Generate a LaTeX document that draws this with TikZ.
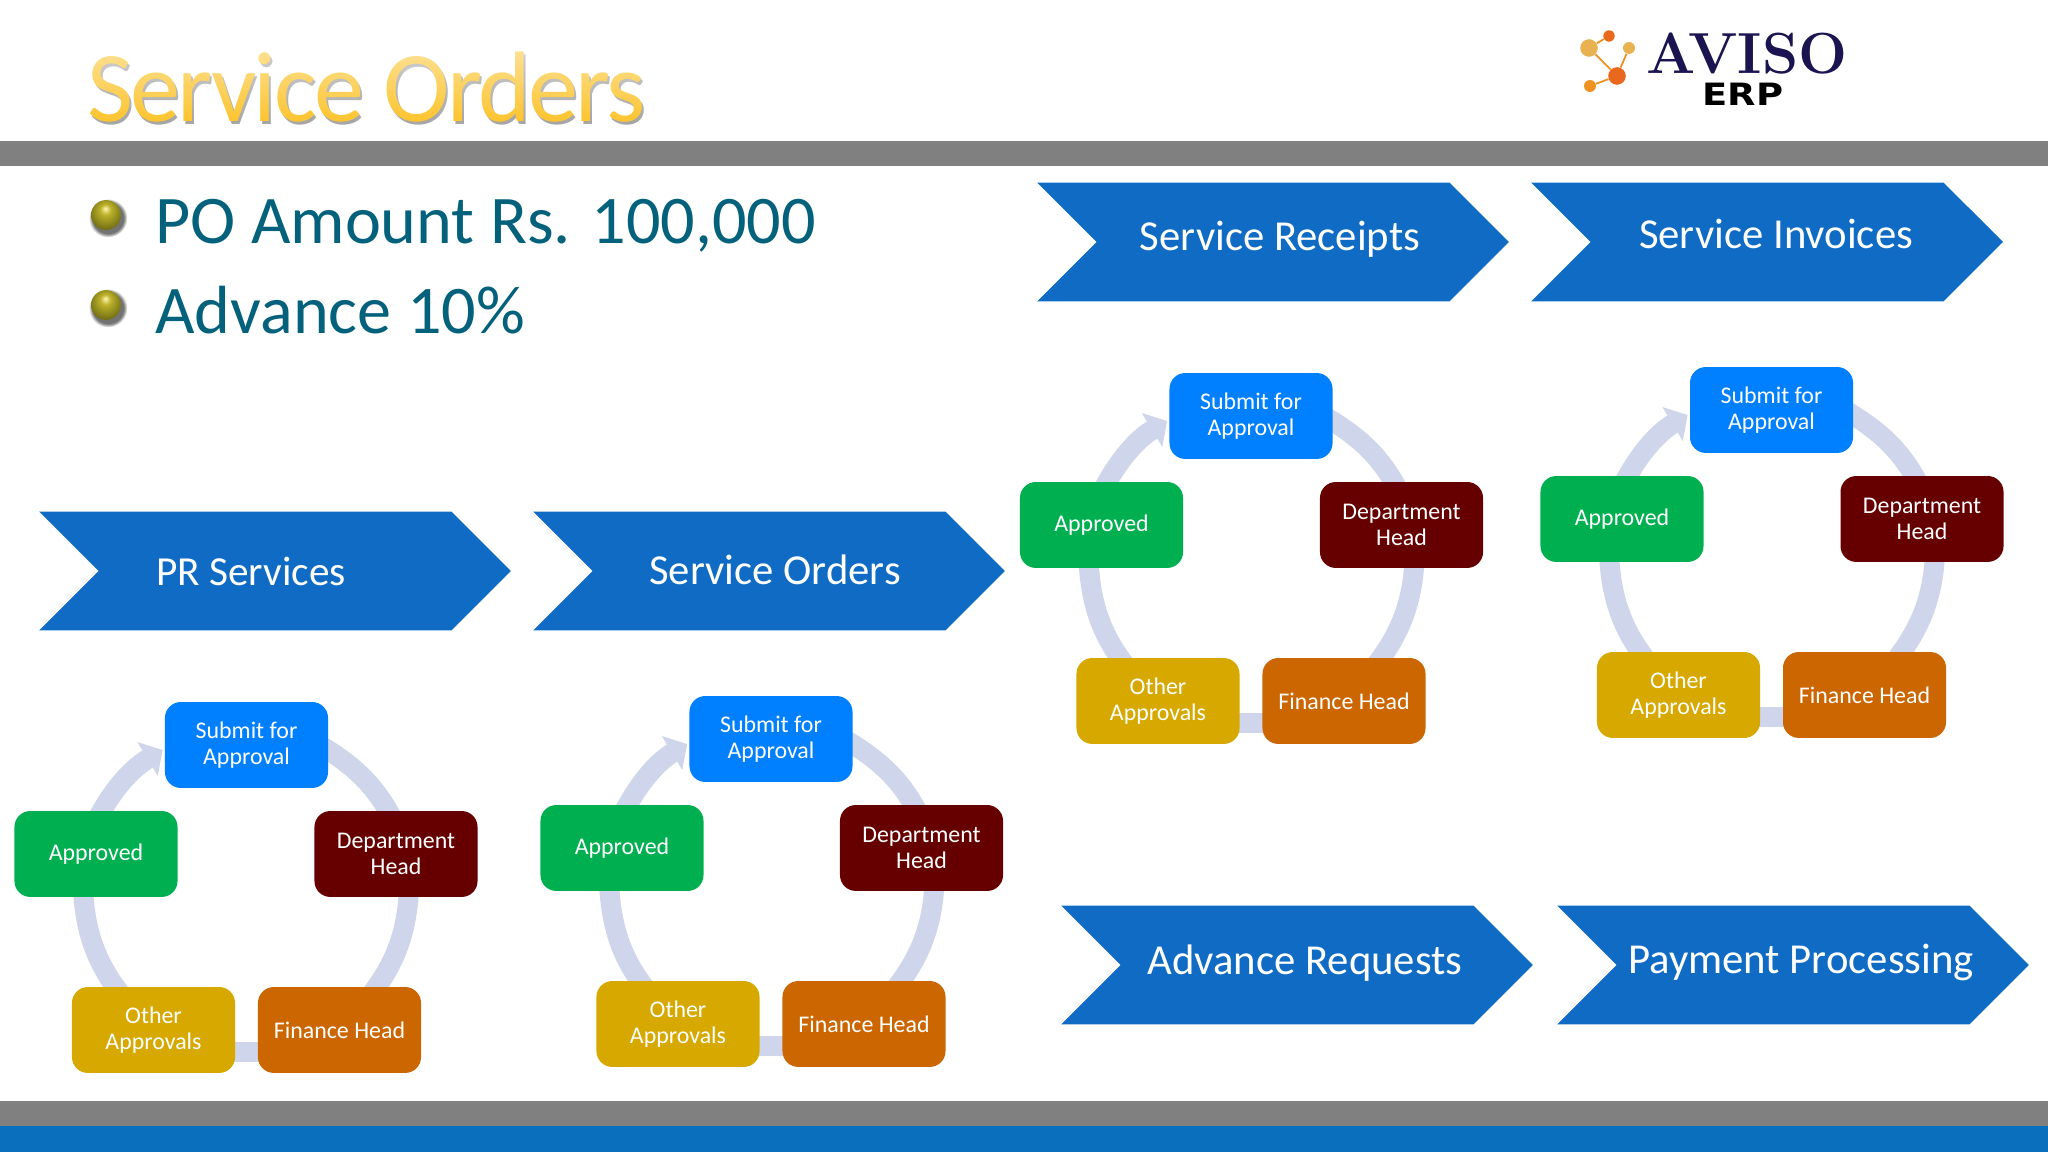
\documentclass[tikz,border=0pt]{standalone}
\usepackage{fontspec}
\setmainfont{Carlito}
\newfontfamily\erpfont[FakeStretch=1.2]{DejaVu Sans}
\newfontfamily\avisofont{Latin Modern Roman}
\usetikzlibrary{positioning}
\usetikzlibrary{calc}
\usetikzlibrary{arrows.meta}
\usetikzlibrary{backgrounds}
\usetikzlibrary{fadings}
\usetikzlibrary{shapes.symbols}
\definecolor{bandgrey}{HTML}{808080}
\definecolor{bandblue}{HTML}{0A6FBD}
\definecolor{chevblue}{HTML}{0F6BC4}
\definecolor{ringblue}{HTML}{CFD5EA}
\definecolor{tealtext}{HTML}{04617B}
\definecolor{titlegold}{HTML}{FCC42E}
\definecolor{logonavy}{HTML}{1A1450}
\definecolor{subfill}{HTML}{0080FF}
\definecolor{appfill}{HTML}{00B050}
\definecolor{depfill}{HTML}{660000}
\definecolor{finfill}{HTML}{CC6600}
\definecolor{othfill}{HTML}{D6A800}
\definecolor{logored}{HTML}{E8681E}
\definecolor{logosand}{HTML}{E8B250}
\definecolor{logoamber}{HTML}{EE9120}
\definecolor{ballhi}{HTML}{FFF6B0}
\definecolor{ballmid}{HTML}{BDB02A}
\definecolor{balllow}{HTML}{9A9420}
\definecolor{balledge}{HTML}{6E6A14}
\pgfdeclareradialshading{goldball}{\pgfpoint{-1bp}{11bp}}{color(0bp)=(ballhi); color(9bp)=(ballmid); color(18bp)=(balllow); color(30bp)=(balledge); color(50bp)=(balledge)}
\tikzset{box/.style={rounded corners=9pt, minimum width=92.8pt, minimum height=48.9pt, inner sep=0pt, align=center, text=white, font=\fontsize{13.6}{14.6}\selectfont}}
\tikzset{subbox/.style={box, fill=subfill}}
\tikzset{appbox/.style={box, fill=appfill}}
\tikzset{depbox/.style={box, fill=depfill}}
\tikzset{finbox/.style={box, fill=finfill}}
\tikzset{othbox/.style={box, fill=othfill}}
\tikzset{ring/.style={line width=11.4pt, draw=ringblue, looseness=0.95}}
\tikzset{ringtip/.style={ring, -{Triangle[width=22pt,length=10pt]}}}
\tikzset{chev/.style={signal, signal from=west, signal to=east, signal pointer angle=90, minimum width=268.6pt, minimum height=67.7pt, inner sep=0pt, fill=chevblue}}
\tikzset{chevtext/.style={text=white, inner sep=0pt, font=\fontsize{24.3}{28}\selectfont}}
\tikzset{bullet/.style={circle, minimum size=17pt, inner sep=0pt, shading=goldball}}
\tikzset{ballshade/.style={circle, minimum size=22pt, inner sep=0pt, fill=black!55, path fading=circle with fuzzy edge 20 percent}}
\tikzset{point/.style={anchor=base west, inner sep=0pt, text=tealtext, font=\fontsize{38.8}{46}\selectfont}}
\tikzset{titletext/.style={anchor=base west, inner sep=0pt, font=\fontsize{57}{68}\selectfont\addfontfeatures{LetterSpace=-2.6}}}
\tikzset{dot/.style={circle, inner sep=0pt}}
\tikzset{link/.style={logoamber, line width=1pt}}

\begin{document}
\begin{tikzpicture}[x=0.02cm, y=0.02cm, on grid]
\useasboundingbox (0,0) rectangle (2048,1152);

% bands
\fill[bandgrey] (0,986) rectangle (2048,1011);
\fill[bandgrey] (0,26) rectangle (2048,51);
\fill[bandblue] (0,0) rectangle (2048,26);

% heading
\node[titletext, text=black!35] (titleshadow) at (89,1027) {Service Orders};
\node[titletext, text=titlegold] (title) at (87,1030) {Service Orders};
\fill[white, path fading=south, fill opacity=.5] (80,1030) rectangle (660,1105);

% logo
\node[dot, fill=logored, minimum size=6.5pt] (d1) at (1609,1116) {};
\node[dot, fill=logosand, minimum size=10pt] (d2) at (1589,1104) {};
\node[dot, fill=logosand, minimum size=6.8pt] (d3) at (1629,1104) {};
\node[dot, fill=logored, minimum size=10pt] (d4) at (1617,1076) {};
\node[dot, fill=logoamber, minimum size=6.8pt] (d5) at (1590,1066) {};
\begin{pgfonlayer}{background}
\draw[link] (d1) -- (d2);
\draw[link] (d2) -- (d4);
\draw[link] (d3) -- (d4);
\draw[link] (d5) -- (d4);
\end{pgfonlayer}
\node[anchor=base west, inner sep=0pt, text=logonavy, font=\fontsize{33}{36}\avisofont\bfseries\selectfont] (aviso) at (1646,1078) {AVISO};
\node[anchor=base, inner sep=0pt, font=\fontsize{17.5}{20}\erpfont\bfseries\selectfont] (erp) at (1743,1046) {ERP};

% points
\node[ballshade] (s1) at (108,934) {};
\node[ballshade] (s2) at (108,844) {};
\node[bullet] (b1) at (106,937) {};
\node[bullet] (b2) at (106,847) {};
\node[point] (po) at (155,908) {PO Amount Rs. 100,000};
\node[point] (adv) at (155,818) {Advance 10\%};

% chevrons
\node[chev] (prc) at (275,581) {};
\node[chev] (ord) at (769,581) {};
\node[chev] (rcp) at (1273,910) {};
\node[chev] (inv) at (1767,910) {};
\node[chev] (req) at (1297,187) {};
\node[chev] (pay) at (1793,187) {};

\node[chevtext, font=\fontsize{23.5}{28}\selectfont] (prct) at (251,581) {PR Services};
\node[chevtext] (ordt) at (775,582) {Service Orders};
\node[chevtext] (rcpt) at (1280,913) {Service Receipts};
\node[chevtext] (invt) at (1776,918) {Service Invoices};
\node[chevtext] (reqt) at (1305,189) {Advance Requests};
\node[chevtext] (payt) at (1801,190) {Payment Processing};

% first cycle
\node[subbox] (subA) at (246.5,407) {Submit for\\Approval};
\node[appbox] (appA) [below left = 109 and 150.5 of subA] {Approved};
\node[depbox] (depA) [below right = 109 and 149.5 of subA] {Department\\Head};
\node[othbox] (othA) [below left = 285 and 93 of subA] {Other\\Approvals};
\node[finbox] (finA) [below right = 285 and 93 of subA] {Finance Head};
\begin{pgfonlayer}{background}
\draw[ring] ($(subA.east) + (-7, -1)$) to[out=-31, in=118] ($(depA.north) + (-4, -7)$);
\draw[ring] ($(depA.south) + (13, 8)$) to[out=-93, in=53] ($(finA.north) + (33, -6)$);
\draw[ring] ($(finA.west) + (8, -22)$) -- ($(othA.east) + (-8, -22)$);
\draw[ring] ($(othA.north) + (-34, -6)$) to[out=127, in=273] ($(appA.south) + (-13, 8)$);
\draw[ringtip] ($(appA.north) + (2, -7)$) to[out=62, in=211] ($(subA.west) + (-2, -5)$);
\end{pgfonlayer}

% second cycle
\node[subbox] (subB) at (771,413) {Submit for\\Approval};
\node[appbox] (appB) [below left = 109 and 149 of subB] {Approved};
\node[depbox] (depB) [below right = 109 and 150.5 of subB] {Department\\Head};
\node[othbox] (othB) [below left = 285 and 93 of subB] {Other\\Approvals};
\node[finbox] (finB) [below right = 285 and 93 of subB] {Finance Head};
\begin{pgfonlayer}{background}
\draw[ring] ($(subB.east) + (-7, -1)$) to[out=-31, in=118] ($(depB.north) + (-4, -7)$);
\draw[ring] ($(depB.south) + (13, 8)$) to[out=-93, in=53] ($(finB.north) + (33, -6)$);
\draw[ring] ($(finB.west) + (8, -22)$) -- ($(othB.east) + (-8, -22)$);
\draw[ring] ($(othB.north) + (-34, -6)$) to[out=127, in=273] ($(appB.south) + (-13, 8)$);
\draw[ringtip] ($(appB.north) + (2, -7)$) to[out=62, in=211] ($(subB.west) + (-2, -5)$);
\end{pgfonlayer}

% third cycle
\node[subbox] (subC) at (1251,736) {Submit for\\Approval};
\node[appbox] (appC) [below left = 109 and 149.5 of subC] {Approved};
\node[depbox] (depC) [below right = 109 and 150.5 of subC] {Department\\Head};
\node[othbox] (othC) [below left = 285 and 93 of subC] {Other\\Approvals};
\node[finbox] (finC) [below right = 285 and 93 of subC] {Finance Head};
\begin{pgfonlayer}{background}
\draw[ring] ($(subC.east) + (-7, -1)$) to[out=-31, in=118] ($(depC.north) + (-4, -7)$);
\draw[ring] ($(depC.south) + (13, 8)$) to[out=-93, in=53] ($(finC.north) + (33, -6)$);
\draw[ring] ($(finC.west) + (8, -22)$) -- ($(othC.east) + (-8, -22)$);
\draw[ring] ($(othC.north) + (-34, -6)$) to[out=127, in=273] ($(appC.south) + (-13, 8)$);
\draw[ringtip] ($(appC.north) + (2, -7)$) to[out=62, in=211] ($(subC.west) + (-2, -5)$);
\end{pgfonlayer}

% fourth cycle
\node[subbox] (subD) at (1771.5,742) {Submit for\\Approval};
\node[appbox] (appD) [below left = 109 and 149.5 of subD] {Approved};
\node[depbox] (depD) [below right = 109 and 150.5 of subD] {Department\\Head};
\node[othbox] (othD) [below left = 285 and 93 of subD] {Other\\Approvals};
\node[finbox] (finD) [below right = 285 and 93 of subD] {Finance Head};
\begin{pgfonlayer}{background}
\draw[ring] ($(subD.east) + (-7, -1)$) to[out=-31, in=118] ($(depD.north) + (-4, -7)$);
\draw[ring] ($(depD.south) + (13, 8)$) to[out=-93, in=53] ($(finD.north) + (33, -6)$);
\draw[ring] ($(finD.west) + (8, -22)$) -- ($(othD.east) + (-8, -22)$);
\draw[ring] ($(othD.north) + (-34, -6)$) to[out=127, in=273] ($(appD.south) + (-13, 8)$);
\draw[ringtip] ($(appD.north) + (2, -7)$) to[out=62, in=211] ($(subD.west) + (-2, -5)$);
\end{pgfonlayer}

\end{tikzpicture}
\end{document}
